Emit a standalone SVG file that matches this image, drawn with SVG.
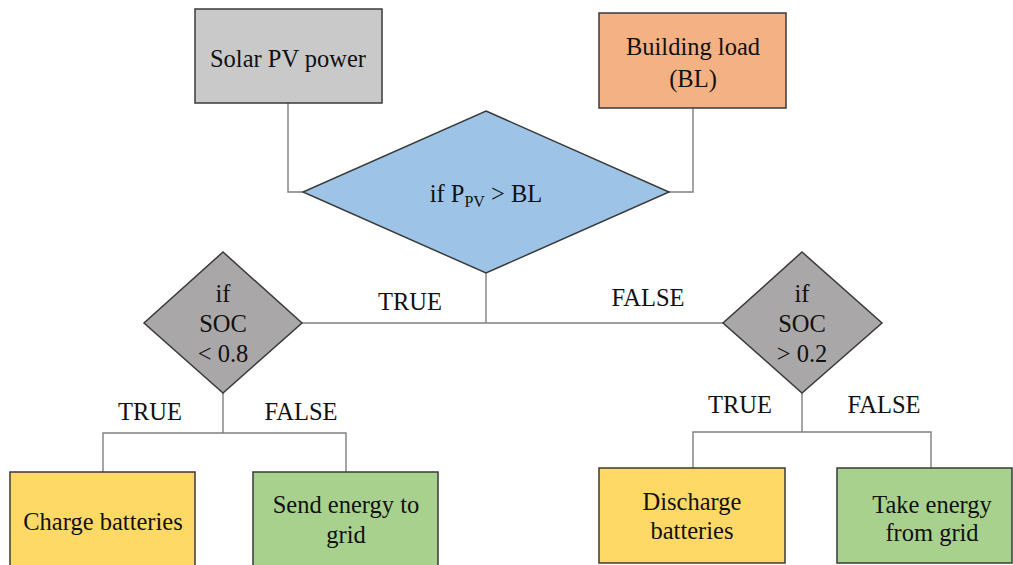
<svg xmlns="http://www.w3.org/2000/svg" width="1013" height="565" viewBox="0 0 1013 565">
<style>
.box{stroke:#3a3a3a;stroke-width:1.5}
.conn{fill:none;stroke:#7f7f7f;stroke-width:1.4}
.t{font-size:24.5px;fill:#111;text-anchor:middle}
</style>
<rect width="1013" height="565" fill="#fff"/>
<g font-family="'Liberation Serif', 'Times New Roman', Times, serif">
<g id="connectors">
<polyline class="conn" points="288,103 288,192 303,192"/>
<polyline class="conn" points="693,108 693,192 669,192"/>
<line class="conn" x1="486" y1="273" x2="486" y2="323"/>
<line class="conn" x1="302" y1="323" x2="723" y2="323"/>
<line class="conn" x1="223" y1="393" x2="223" y2="433"/>
<polyline class="conn" points="103,472 103,433 346,433 346,472"/>
<line class="conn" x1="802" y1="393" x2="802" y2="432"/>
<polyline class="conn" points="693,468 693,432 931,432 931,468"/>
<text class="t" x="410" y="310">TRUE</text>
<text class="t" x="648" y="306">FALSE</text>
<text class="t" x="150" y="420">TRUE</text>
<text class="t" x="301" y="420">FALSE</text>
<text class="t" x="740" y="413">TRUE</text>
<text class="t" x="884" y="413">FALSE</text>
</g>
<g id="solar">
<rect class="box" x="195" y="9" width="187" height="94" fill="#c9c9c9"/>
<text class="t" x="288" y="67">Solar PV power</text>
</g>
<g id="building">
<rect class="box" x="599" y="13" width="187" height="95" fill="#f4b183"/>
<text class="t" x="693" y="55">Building load</text>
<text class="t" x="693" y="87">(BL)</text>
</g>
<g id="decision-main">
<polygon class="box" points="486,111 669,192 486,273 303,192" fill="#9dc3e6"/>
<text class="t" x="486" y="202">if P<tspan font-size="16" dy="5">PV</tspan><tspan dy="-5"> &gt; BL</tspan></text>
</g>
<g id="decision-soc-low">
<polygon class="box" points="223,252 302,323 223,393 144,323" fill="#a9a7a7"/>
<text class="t" x="223" y="302">if</text>
<text class="t" x="223" y="332">SOC</text>
<text class="t" x="223" y="362">&lt; 0.8</text>
</g>
<g id="decision-soc-high">
<polygon class="box" points="802,252 882,323 802,393 723,323" fill="#a9a7a7"/>
<text class="t" x="802" y="302">if</text>
<text class="t" x="802" y="332">SOC</text>
<text class="t" x="802" y="362">&gt; 0.2</text>
</g>
<g id="charge">
<rect class="box" x="10" y="472" width="185" height="96" fill="#ffd966"/>
<text class="t" x="103" y="530">Charge batteries</text>
</g>
<g id="send">
<rect class="box" x="253" y="472" width="185" height="96" fill="#a9d18e"/>
<text class="t" x="346" y="513">Send energy to</text>
<text class="t" x="346" y="543">grid</text>
</g>
<g id="discharge">
<rect class="box" x="599" y="468" width="186" height="95" fill="#ffd966"/>
<text class="t" x="692" y="510">Discharge</text>
<text class="t" x="692" y="539">batteries</text>
</g>
<g id="take">
<rect class="box" x="837" y="468" width="175" height="95" fill="#a9d18e"/>
<text class="t" x="932" y="513">Take energy</text>
<text class="t" x="932" y="541">from grid</text>
</g>
</g>
</svg>
